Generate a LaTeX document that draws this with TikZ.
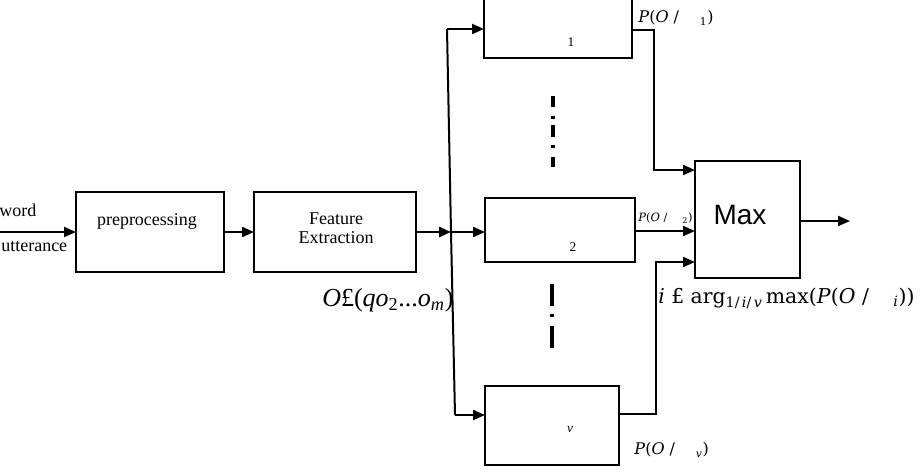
\documentclass[tikz,border=0pt]{standalone}
\usepackage{fontspec}
\setmainfont{Liberation Serif}
\newfontfamily\sansf{Liberation Sans}
\newfontfamily\dvs{DejaVu Serif}
\usetikzlibrary{arrows.meta}
\tikzset{
  blk/.style={draw, line width=1.5pt, inner sep=0pt, outer sep=0pt},
  con/.style={line width=1.5pt},
  arr/.style={line width=1.5pt, -{Triangle[length=9pt,width=7.5pt]}},
  dashv/.style={line width=3pt},
  txt/.style={inner sep=0pt, font=\fontsize{13.5}{15}\selectfont},
  num/.style={inner sep=0pt, font=\fontsize{10}{12}\selectfont},
  plab/.style={inner sep=0pt, anchor=west, font=\dvs\fontsize{12}{14}\selectfont},
}
\begin{document}
\begin{tikzpicture}[x=0.75pt,y=-0.75pt]
\useasboundingbox (0,0) rectangle (924,472);
\clip (0,0) rectangle (924,472);
% boxes
\node[blk, minimum width=111pt, minimum height=60pt] (pre) at (150,232) {};
\node[blk, minimum width=121.5pt, minimum height=60pt] (fe) at (335,232) {};
\node[blk, minimum width=111pt, minimum height=46.5pt] (b1) at (558,27) {};
\node[blk, minimum width=112.5pt, minimum height=48pt] (b2) at (560,230) {};
\node[blk, minimum width=100.5pt, minimum height=59.25pt] (bv) at (552,425.5) {};
\node[blk, minimum width=78.75pt, minimum height=87.75pt] (mx) at (747.5,219.5) {};
% texts in boxes
\node[txt] (tpre) at (147,221) {preprocessing};
\node[txt, align=center, font=\fontsize{13.5}{14.5}\selectfont] (tfe) at (336,228) {Feature\\Extraction};
\node[num] (t1) at (571,42) {1};
\node[num] (t2) at (573,247) {2};
\node[num] (tv) at (570,429) {\textit{v}};
\node[inner sep=0pt, font=\sansf\fontsize{21}{23}\selectfont] (tmx) at (740,215) {Max};
% input labels
\node[txt, anchor=west] (tw) at (-1,210) {word};
\node[txt, anchor=west] (tu) at (1,247) {utterance};
% coordinates
\coordinate (in) at (0,232);
\coordinate (busTop) at (447,29);
\coordinate (busMid) at (451,232);
\coordinate (busBot) at (455,415);
\coordinate (o1) at (654,30);
\coordinate (o1b) at (654,170);
\coordinate (ov) at (656,414);
\coordinate (ovb) at (656,262);
\coordinate (out) at (850,221);
% connectors
\draw[arr] (in) -- (pre.west);
\draw[arr] (pre.east) -- (fe.west);
\draw[arr, line width=2.2pt] (fe.east) -- (busMid);
\draw[con] (busTop) -- (busMid) -- (busBot);
\draw[arr] (busTop) -- (busTop -| b1.west);
\draw[arr] (busMid) -- (busMid -| b2.west);
\draw[arr] (busBot) -- (busBot -| bv.west);
\draw[arr] (o1 -| b1.east) -- (o1) -- (o1b) -- (o1b -| mx.west);
\draw[arr] (b2.east |- 0,231) -- (mx.west |- 0,231);
\draw[arr] (ov -| bv.east) -- (ov) -- (ovb) -- (ovb -| mx.west);
\draw[arr] (mx.east |- out) -- (out);
% dash-dot ellipses
\draw[dashv] (553,96) -- (553,107);
\draw[dashv] (553,115.5) -- (553,118.5);
\draw[dashv] (553,125) -- (553,137);
\draw[dashv] (553,144.5) -- (553,147.5);
\draw[dashv] (553,157) -- (553,167);
\draw[dashv] (552,284) -- (552,306);
\draw[dashv] (552,313.5) -- (552,316.5);
\draw[dashv] (552,326) -- (552,348);
% probability labels
\node[plab] (p1) at (638,18) {\textit{P}(\textit{O} /\hspace{1.3em}\textsubscript{1})};
\node[plab, font=\dvs\fontsize{8.6}{10}\selectfont] (p2) at (638,218) {\textit{P}(\textit{O} /\hspace{1.3em}\textsubscript{2})};
\node[plab] (pv) at (634,450) {\textit{P}(\textit{O} /\hspace{1.3em}\textsubscript{\textit{v}})};
% formulas
\node[inner sep=0pt, anchor=west, font=\fontsize{19.5}{22}\selectfont] (fO) at (322,300) {\textit{O}£(\textit{qo}\textsubscript{2}...\textit{o}\textsubscript{\textit{m}})};
\node[inner sep=0pt, anchor=west, font=\dvs\fontsize{15.3}{18}\selectfont] (fa) at (658,298) {\textit{i} £ arg\textsubscript{1/\,\textit{i}/\,\textit{v}}\,max(\textit{P}(\textit{O} /\hspace{1.2em}\textsubscript{\textit{i}}))};
\end{tikzpicture}
\end{document}
